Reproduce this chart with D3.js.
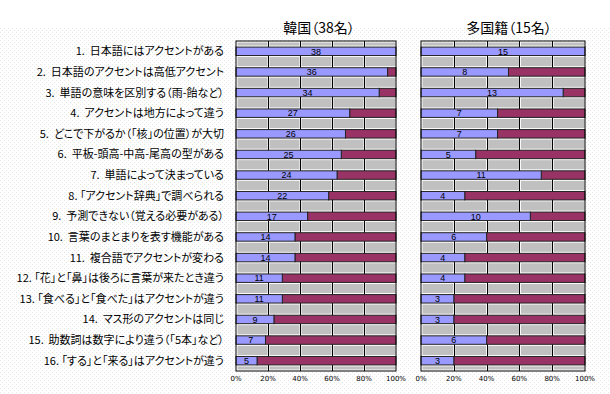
<!DOCTYPE html>
<html>
<head>
<meta charset="utf-8">
<script src="https://cdn.jsdelivr.net/npm/d3@7"></script>
<style>
  body { margin: 0; background: #fff; }
  svg { display: block; }
  .jp { font-family: "Noto Sans CJK JP", sans-serif; font-feature-settings: "palt"; white-space: pre; }
</style>
</head>
<body>
<div id="viz"></div>
<script>
const width = 610;
const height = 394;

// Data
const items = [
  '1.  日本語にはアクセントがある',
  '2.  日本語のアクセントは高低アクセント',
  '3.  単語の意味を区別する（雨-飴など）',
  '4.  アクセントは地方によって違う',
  '5.  どこで下がるか（「核」の位置）が大切',
  '6.  平板-頭高-中高-尾高の型がある',
  '7.  単語によって決まっている',
  '8. 「アクセント辞典」で調べられる',
  '9.  予測できない（覚える必要がある）',
  '10.  言葉のまとまりを表す機能がある',
  '11.  複合語でアクセントが変わる',
  '12. 「花」と「鼻」は後ろに言葉が来たとき違う',
  '13. 「食べる」と「食べた」はアクセントが違う',
  '14.  マス形のアクセントは同じ',
  '15.  助数詞は数字により違う（「5本」など）',
  '16. 「する」と「来る」はアクセントが違う'
];
const groupTitles = ['韓国（38名）', '多国籍（15名）'];
const groupSizes = [38, 15];
const koreaYes = [38, 36, 34, 27, 26, 25, 24, 22, 17, 14, 14, 11, 11, 9, 7, 5];
const multiYes = [15, 8, 13, 7, 7, 5, 11, 4, 10, 6, 4, 4, 3, 3, 6, 3];
const tickValues = [0, 20, 40, 60, 80, 100];

const blue = '#9999ff';
const maroon = '#993366';
const gray = '#c0c0c0';

const svg = d3.select('#viz')
  .append('svg')
    .attr('width', width)
    .attr('height', height);

// faint dotted background like the original image
const defs = svg.append('defs');
const pat = defs.append('pattern')
  .attr('id', 'dots')
  .attr('width', 4).attr('height', 4)
  .attr('patternUnits', 'userSpaceOnUse');
pat.append('rect').attr('x', 0).attr('y', 0).attr('width', 1).attr('height', 1).attr('fill', '#e6e6e6');
pat.append('rect').attr('x', 2).attr('y', 2).attr('width', 1).attr('height', 1).attr('fill', '#e6e6e6');
svg.append('rect')
  .attr('x', 0).attr('y', 28)
  .attr('width', width).attr('height', height - 28)
  .attr('fill', 'url(#dots)');

const y = d3.scaleBand()
  .domain(items)
  .range([41, 371])
  .paddingInner(0.59)
  .paddingOuter(0.295);
const bw = y.bandwidth();

// category labels
const labels = svg.append('g')
  .selectAll('text')
  .data(items)
  .join('text')
    .attr('class', 'jp')
    .attr('x', 224)
    .attr('y', d => y(d) + bw / 2)
    .attr('dy', '0.36em')
    .attr('text-anchor', 'end')
    .style('font-size', '11px')
    .style('fill', '#000')
    .text(d => d);

// squeeze any label that would run past the left edge
labels.each(function() {
  const w = this.getComputedTextLength();
  if (w > 212) d3.select(this).attr('textLength', 212).attr('lengthAdjust', 'spacingAndGlyphs');
});

const panels = [
  {title: groupTitles[0], n: groupSizes[0], values: koreaYes, x0: 236, x1: 396, titleX: 319},
  {title: groupTitles[1], n: groupSizes[1], values: multiYes, x0: 421, x1: 585, titleX: 509}
];

panels.forEach(p => {
  const x = d3.scaleLinear().domain([0, 100]).range([p.x0, p.x1]);
  const g = svg.append('g');

  // gray background cells between the bars
  const gaps = d3.range(items.length + 1).map(i => ({
    top: i === 0 ? y.range()[0] : y(items[i - 1]) + bw,
    bottom: i === items.length ? y.range()[1] : y(items[i])
  }));
  const cells = [];
  gaps.forEach(gp => {
    d3.pairs(tickValues).forEach(([a, b]) => cells.push({a, b, top: gp.top, bottom: gp.bottom}));
  });
  g.append('rect')
    .attr('x', x(0)).attr('y', y.range()[0])
    .attr('width', x(100) - x(0)).attr('height', y.range()[1] - y.range()[0])
    .attr('fill', '#fff');
  g.append('g')
    .selectAll('rect')
    .data(cells)
    .join('rect')
      .attr('x', d => x(d.a) + 1.5)
      .attr('y', d => d.top + 1.5)
      .attr('width', d => x(d.b) - x(d.a) - 2)
      .attr('height', d => Math.max(0, d.bottom - d.top - 3))
      .attr('fill', gray);

  // gridlines
  g.append('g')
    .selectAll('line')
    .data(tickValues.slice(1, -1))
    .join('line')
      .attr('x1', d => Math.round(x(d)) + 0.5)
      .attr('x2', d => Math.round(x(d)) + 0.5)
      .attr('y1', y.range()[0])
      .attr('y2', y.range()[1])
      .attr('stroke', '#000')
      .attr('stroke-width', 1);

  // stacked bars
  const rows = items.map((d, i) => ({item: d, yes: p.values[i], pct: p.values[i] / p.n * 100}));
  const bars = g.append('g');
  bars.selectAll('rect.no')
    .data(rows)
    .join('rect')
      .attr('class', 'no')
      .attr('x', d => x(d.pct))
      .attr('y', d => y(d.item))
      .attr('width', d => x(100) - x(d.pct))
      .attr('height', bw)
      .attr('fill', maroon)
      .attr('stroke', '#222')
      .attr('stroke-width', 1);
  bars.selectAll('rect.yes')
    .data(rows)
    .join('rect')
      .attr('class', 'yes')
      .attr('x', x(0))
      .attr('y', d => y(d.item))
      .attr('width', d => x(d.pct) - x(0))
      .attr('height', bw)
      .attr('fill', blue)
      .attr('stroke', '#222')
      .attr('stroke-width', 1);

  // value labels
  bars.selectAll('text')
    .data(rows)
    .join('text')
      .attr('x', d => (x(0) + x(d.pct)) / 2)
      .attr('y', d => y(d.item) + bw / 2)
      .attr('dy', '0.36em')
      .attr('text-anchor', 'middle')
      .style('font-family', '"Liberation Sans", Arial, sans-serif')
      .style('font-size', '9px')
      .text(d => d.yes);

  // frame
  g.append('rect')
    .attr('x', x(0)).attr('y', y.range()[0])
    .attr('width', x(100) - x(0)).attr('height', y.range()[1] - y.range()[0])
    .attr('fill', 'none')
    .attr('stroke', '#000');

  // x axis labels
  g.append('g')
    .selectAll('text')
    .data(tickValues)
    .join('text')
      .attr('x', d => x(d))
      .attr('y', 381)
      .attr('text-anchor', 'middle')
      .style('font-family', '"DejaVu Sans", sans-serif')
      .style('font-size', '7px')
      .text(d => d + '%');

  // title
  svg.append('text')
    .attr('class', 'jp')
    .attr('x', p.titleX)
    .attr('y', 33)
    .attr('text-anchor', 'middle')
    .style('font-size', '14px')
    .text(p.title);
});
</script>
</body>
</html>
